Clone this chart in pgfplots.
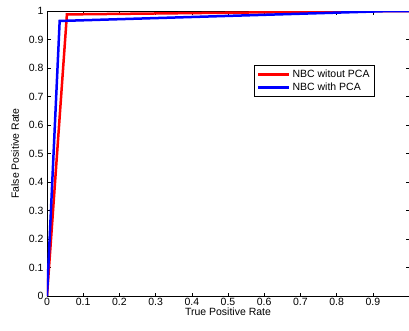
\documentclass[border=0pt]{standalone}
\usepackage{pgfplots}
\pgfplotsset{compat=1.18}
\usepackage{fontspec}
\setmainfont{Liberation Sans}
\begin{document}
\begin{tikzpicture}
\useasboundingbox (-47pt,-34pt) rectangle (362pt,296pt);
\begin{axis}[
  at={(0pt,0pt)}, anchor=south west,
  width=362pt, height=285pt, scale only axis,
  xmin=0, xmax=1, ymin=0, ymax=1,
  xtick={0,0.1,...,1.0},
  xticklabels={0,0.1,0.2,0.3,0.4,0.5,0.6,0.7,0.8,0.9,},
  ytick={0,0.1,...,1.0},
  yticklabels={0,0.1,0.2,0.3,0.4,0.5,0.6,0.7,0.8,0.9,1},
  tick align=inside, tick pos=both,
  major tick length=3.5pt,
  tick style={black, line width=0.5pt},
  axis line style={black, line width=0.8pt},
  tick label style={font=\fontsize{10.5}{12}\selectfont},
  xticklabel style={yshift=1pt},
  /pgf/number format/assume math mode=true,
  xlabel={True Positive Rate}, ylabel={False Positive Rate},
  label style={font=\fontsize{10.5}{12}\selectfont},
  xlabel style={yshift=5pt},
  ylabel style={yshift=3pt},
  legend style={at={(0.572,0.81)}, anchor=north west, font=\fontsize{10.5}{12}\selectfont, draw=black, inner sep=2.5pt},
  legend cell align=left,
  legend image code/.code={\draw[#1] (0cm,0cm) -- (1.1cm,0cm);},
]
\addplot[red, line width=2.5pt] coordinates {(0,0) (0.055,0.988) (0.95,1) (1,1)};
\addlegendentry{NBC witout PCA}
\addplot[blue, line width=2.5pt] coordinates {(0,0) (0.035,0.965) (0.95,1) (1,1)};
\addlegendentry{NBC with PCA}
\end{axis}
\end{tikzpicture}
\end{document}
